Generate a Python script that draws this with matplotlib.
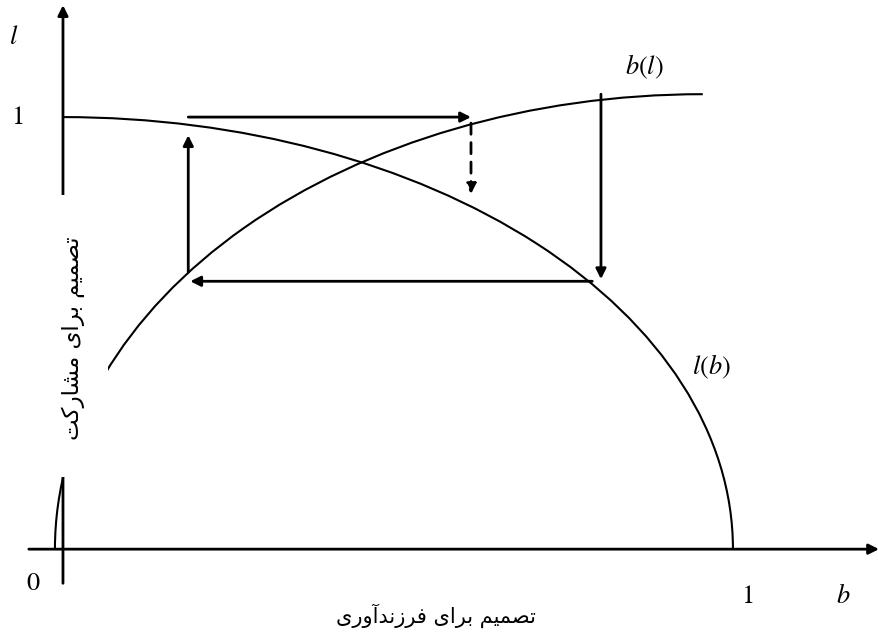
import numpy as np
import matplotlib.pyplot as plt
from matplotlib.patches import Arc, Rectangle

plt.rcParams['mathtext.fontset'] = 'stix'

# curve l(b): quarter ellipse centred at origin
lb_center = (0.0, 0.0)
lb_size = (2.0, 2.0)
# curve b(l): ellipse arc centred on the b axis
bl_center = (0.955, 0.0)
bl_size = (1.934, 2.106)
bl_angles = (90, 180)

# adjustment arrows (b0, l0, b1, l1)
arrows_solid = [
    (0.187, 1.000, 0.609, 1.000),
    (0.803, 1.053, 0.803, 0.625),
    (0.790, 0.620, 0.190, 0.620),
    (0.187, 0.641, 0.187, 0.958),
]
arrows_dashed = [
    (0.609, 0.986, 0.609, 0.822),
]

x_title = 'تصمیم برای فرزندآوری'
y_title = 'تصمیم برای مشارکت'

# minimal persian shaping (isolated, final, initial, medial)
FORMS = {
    'ا': ('\uFE8D', '\uFE8E', None, None),
    'آ': ('\uFE81', '\uFE82', None, None),
    'ب': ('\uFE8F', '\uFE90', '\uFE91', '\uFE92'),
    'ت': ('\uFE95', '\uFE96', '\uFE97', '\uFE98'),
    'د': ('\uFEA9', '\uFEAA', None, None),
    'ر': ('\uFEAD', '\uFEAE', None, None),
    'ز': ('\uFEAF', '\uFEB0', None, None),
    'ش': ('\uFEB5', '\uFEB6', '\uFEB7', '\uFEB8'),
    'ص': ('\uFEB9', '\uFEBA', '\uFEBB', '\uFEBC'),
    'ف': ('\uFED1', '\uFED2', '\uFED3', '\uFED4'),
    'ک': ('\uFB8E', '\uFB8F', '\uFB90', '\uFB91'),
    'م': ('\uFEE1', '\uFEE2', '\uFEE3', '\uFEE4'),
    'ن': ('\uFEE5', '\uFEE6', '\uFEE7', '\uFEE8'),
    'و': ('\uFEED', '\uFEEE', None, None),
    'ی': ('\uFBFC', '\uFBFD', '\uFBFE', '\uFBFF'),
}


def shape(text):
    out = []
    for i, ch in enumerate(text):
        if ch not in FORMS:
            out.append(ch)
            continue
        prev = text[i - 1] if i > 0 else ''
        nxt = text[i + 1] if i + 1 < len(text) else ''
        join_prev = prev in FORMS and FORMS[prev][2] is not None
        join_next = nxt in FORMS and FORMS[ch][2] is not None
        iso, fin, ini, med = FORMS[ch]
        if join_prev and join_next:
            out.append(med)
        elif join_prev:
            out.append(fin)
        elif join_next:
            out.append(ini)
        else:
            out.append(iso)
    return ''.join(out)[::-1]


fig = plt.figure(figsize=(8.79, 6.36), dpi=100)
ax = fig.add_axes([0, 0, 1, 1])
ax.set_xlim(-0.094, 1.218)
ax.set_ylim(-0.201, 1.271)
ax.axis('off')

# curves
ax.add_patch(Arc(lb_center, *lb_size, theta1=0, theta2=90, color='black', lw=1.5))
ax.add_patch(Arc(bl_center, *bl_size, theta1=bl_angles[0], theta2=bl_angles[1],
                 color='black', lw=1.5))

arrow_kw = dict(arrowstyle='-|>', color='black', lw=2,
                mutation_scale=15, shrinkA=0, shrinkB=0)

# axes
ax.annotate('', xy=(1.218, 0), xytext=(-0.051, 0), arrowprops=arrow_kw)
ax.annotate('', xy=(0, 1.259), xytext=(0, -0.079), arrowprops=arrow_kw)

for b0, l0, b1, l1 in arrows_solid:
    ax.annotate('', xy=(b1, l1), xytext=(b0, l0), arrowprops=arrow_kw)
for b0, l0, b1, l1 in arrows_dashed:
    ax.annotate('', xy=(b1, l1), xytext=(b0, l0),
                arrowprops=dict(arrow_kw, ls=(0, (4, 3))))

# white band behind the vertical title
ax.add_patch(Rectangle((-0.04, 0.167), 0.107, 0.652, facecolor='white',
                       edgecolor='none', zorder=5))

fs = 19
ax.text(-0.073, 1.185, r'$l$', fontsize=fs, ha='center', va='center')
ax.text(-0.069, 1.0, r'$1$', fontsize=fs, ha='center', va='center')
ax.text(-0.045, -0.079, r'$0$', fontsize=fs, ha='center', va='center')
ax.text(1.022, -0.109, r'$1$', fontsize=fs, ha='center', va='center')
ax.text(1.164, -0.109, r'$b$', fontsize=fs, ha='center', va='center')
ax.text(0.868, 1.117, r'$b(l)$', fontsize=fs, ha='center', va='center')
ax.text(0.968, 0.421, r'$l(b)$', fontsize=fs, ha='center', va='center')

ax.text(0.557, -0.153, shape(x_title), fontsize=15, ha='center', va='center',
        family=['DejaVu Sans'])
ax.text(0.015, 0.488, shape(y_title), fontsize=16.5, ha='center', va='center',
        rotation=90, family=['DejaVu Sans'], zorder=6)

fig.savefig('out.png', dpi=100)
